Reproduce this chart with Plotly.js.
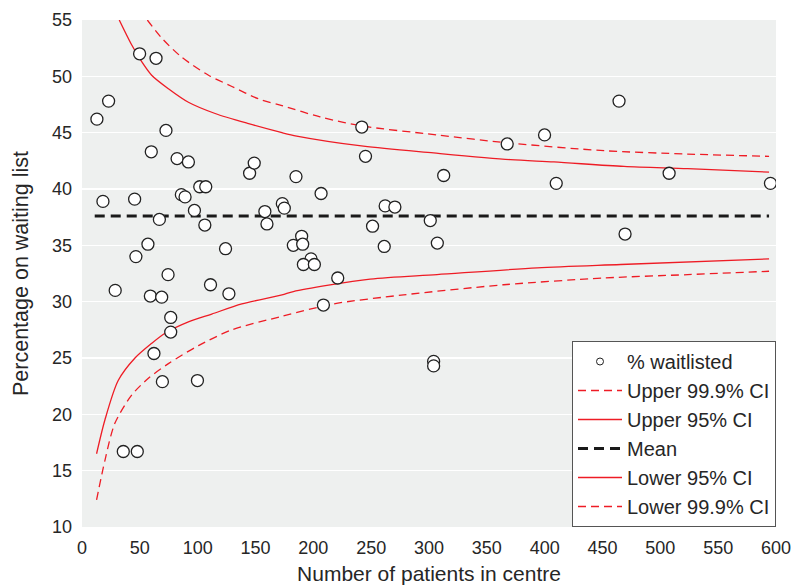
<!DOCTYPE html>
<html>
<head>
<meta charset="utf-8">
<script src="https://cdn.plot.ly/plotly-3.0.1.min.js"></script>
<style>html,body{margin:0;padding:0;background:#fff;}#chart{width:796px;height:587px;}</style>
</head>
<body>
<div id="chart"></div>
<script>
// Centres: number of patients and % waitlisted
const patients = [12.9, 23.0, 18.1, 49.8, 64.0, 72.6, 59.9, 45.5, 66.9, 57.0, 46.6, 74.4, 28.7, 59.1, 68.9,
  82.2, 92.0, 85.9, 89.1, 101.8, 107.0, 97.2, 106.2, 124.1, 111.1, 127.0, 144.9, 148.9, 158.1, 159.9,
  173.2, 174.9, 185.0, 206.7, 182.7, 189.9, 190.8, 198.0, 191.4, 200.9, 221.1, 208.7, 241.9, 245.1, 251.2,
  261.3, 262.1, 270.5, 35.7, 47.8, 62.2, 69.5, 99.8, 76.7, 76.7, 304.0, 304.0, 367.6, 399.9, 464.3,
  312.7, 410.0, 507.6, 595.2, 301.1, 307.2, 469.5];
const waitlisted = [46.2, 47.8, 38.9, 52.0, 51.6, 45.2, 43.3, 39.1, 37.3, 35.1, 34.0, 32.4, 31.0, 30.5, 30.4,
  42.7, 42.4, 39.5, 39.3, 40.2, 40.2, 38.1, 36.8, 34.7, 31.5, 30.7, 41.4, 42.3, 38.0, 36.9,
  38.7, 38.3, 41.1, 39.6, 35.0, 35.8, 35.1, 33.8, 33.3, 33.3, 32.1, 29.7, 45.5, 42.9, 36.7,
  34.9, 38.5, 38.4, 16.7, 16.7, 25.4, 22.9, 23.0, 28.6, 27.3, 24.7, 24.3, 44.0, 44.8, 47.8,
  41.2, 40.5, 41.4, 40.5, 37.2, 35.2, 36.0];

// Control limits
const upper999X = [56.5, 68.9, 86.2, 109.4, 129.6, 152.7, 172.9, 205.8, 241.9, 306.9, 367.6, 451.3, 523.6, 594];
const upper999Y = [55.0, 53.4, 51.7, 50.1, 49.1, 48.0, 47.4, 46.4, 45.6, 44.8, 44.1, 43.4, 43.1, 42.9];
const upper95X = [32.2, 42.9, 51.6, 60.2, 74.7, 92.0, 115.1, 144.0, 172.9, 185.6, 243.3, 304.0, 370.5, 408.0, 468.6, 523.6, 594];
const upper95Y = [55.0, 52.8, 51.3, 50.1, 48.9, 47.7, 46.7, 45.8, 45.0, 44.7, 43.8, 43.2, 42.6, 42.4, 42.0, 41.8, 41.5];
const meanX = [11, 594];
const meanY = [37.6, 37.6];
const lower95X = [12.6, 19.8, 31.3, 45.8, 60.2, 71.8, 92.0, 112.2, 138.2, 172.9, 182.7, 249.1, 306.9, 393.6, 465.8, 594];
const lower95Y = [16.5, 19.5, 23.0, 25.0, 26.3, 27.2, 28.2, 28.9, 29.8, 30.6, 30.9, 32.0, 32.4, 33.0, 33.3, 33.8];
const lower999X = [12.6, 19.8, 28.4, 42.9, 57.4, 74.7, 100.7, 129.6, 172.9, 217.3, 278.0, 364.6, 451.3, 523.6, 594];
const lower999Y = [12.4, 15.9, 19.2, 21.7, 23.2, 24.5, 26.1, 27.5, 28.7, 29.8, 30.6, 31.5, 32.1, 32.4, 32.7];

const RED = '#ee1c25';
const FONT = 'Liberation Sans, Arial, sans-serif';
const TXT = '#262626';

const traces = [
  {x: upper999X, y: upper999Y, mode: 'lines', name: 'Upper 99.9% CI', legendrank: 2,
   line: {color: RED, width: 1.3, dash: '8px,5px', shape: 'spline', smoothing: 0.8}, hoverinfo: 'skip'},
  {x: upper95X, y: upper95Y, mode: 'lines', name: 'Upper 95% CI', legendrank: 3,
   line: {color: RED, width: 1.3, shape: 'spline', smoothing: 0.8}, hoverinfo: 'skip'},
  {x: meanX, y: meanY, mode: 'lines', name: 'Mean', legendrank: 4,
   line: {color: '#1a1a1a', width: 3, dash: '10px,6px'}, hoverinfo: 'skip'},
  {x: lower95X, y: lower95Y, mode: 'lines', name: 'Lower 95% CI', legendrank: 5,
   line: {color: RED, width: 1.3, shape: 'spline', smoothing: 0.8}, hoverinfo: 'skip'},
  {x: lower999X, y: lower999Y, mode: 'lines', name: 'Lower 99.9% CI', legendrank: 6,
   line: {color: RED, width: 1.3, dash: '8px,5px', shape: 'spline', smoothing: 0.8}, hoverinfo: 'skip'},
  {x: patients, y: waitlisted, mode: 'markers', name: '% waitlisted', showlegend: false,
   marker: {symbol: 'circle', size: 12, color: '#ffffff', line: {color: '#222222', width: 1.3}}},
  {x: [null], y: [null], mode: 'markers', name: '% waitlisted', legendrank: 1,
   marker: {symbol: 'circle', size: 7, color: '#ffffff', line: {color: '#222222', width: 1}}}
];

const layout = {
  width: 796, height: 587,
  margin: {l: 82, r: 20, t: 20, b: 60},
  paper_bgcolor: '#ffffff',
  plot_bgcolor: '#eef0ef',
  font: {family: FONT, size: 18, color: TXT},
  showlegend: true,
  legend: {
    x: 1, y: 0, xanchor: 'right', yanchor: 'bottom',
    bgcolor: '#ffffff', bordercolor: '#555555', borderwidth: 1,
    font: {family: FONT, size: 20, color: TXT},
    tracegroupgap: 0, itemwidth: 44
  },
  xaxis: {
    range: [0, 600], tickvals: [0, 50, 100, 150, 200, 250, 300, 350, 400, 450, 500, 550, 600],
    showgrid: false, zeroline: false, showline: false, ticks: '',
    ticklabelstandoff: 8,
    tickfont: {family: FONT, size: 18, color: TXT},
    title: {text: 'Number of patients in centre', font: {family: FONT, size: 21, color: TXT}, standoff: 9},
    automargin: false
  },
  yaxis: {
    range: [10, 55], tickvals: [10, 15, 20, 25, 30, 35, 40, 45, 50, 55],
    showgrid: true, gridcolor: '#ffffff', gridwidth: 1.5, zeroline: false, showline: false, ticks: '',
    ticklabelstandoff: 9,
    tickfont: {family: FONT, size: 18, color: TXT},
    title: {text: 'Percentage on waiting list', font: {family: FONT, size: 21.5, color: TXT}, standoff: 17},
    automargin: false
  }
};

Plotly.newPlot('chart', traces, layout, {displayModeBar: false, staticPlot: true});
</script>
</body>
</html>
